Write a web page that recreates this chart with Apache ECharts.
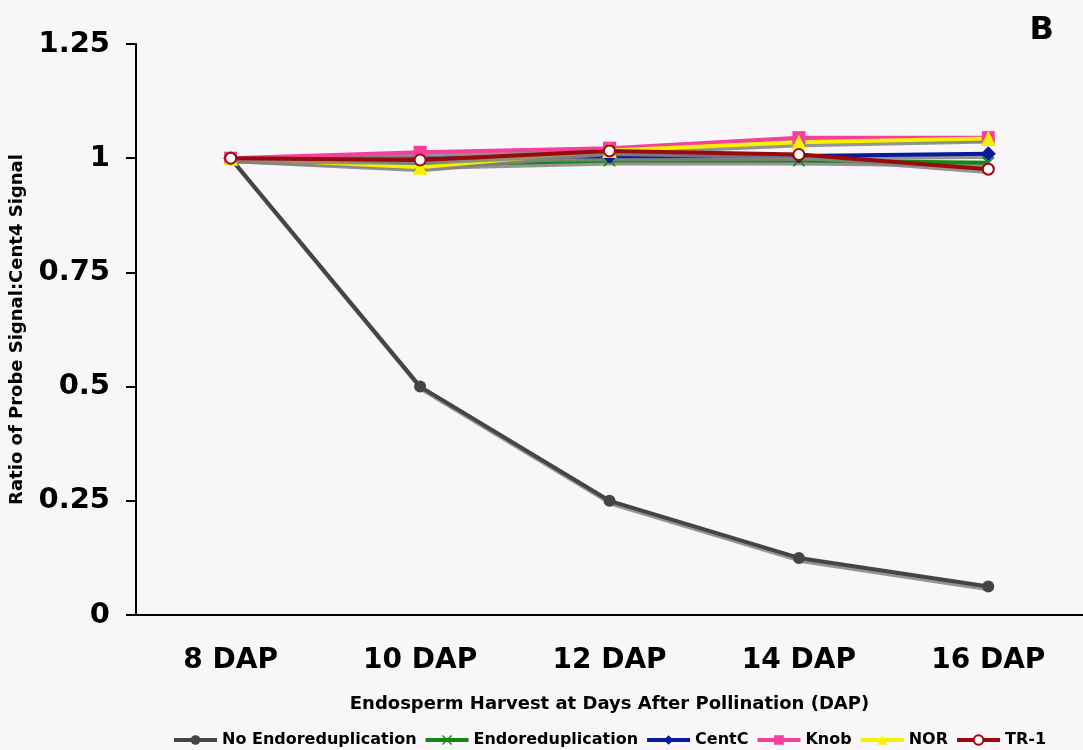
<!DOCTYPE html>
<html>
<head>
<meta charset="utf-8">
<script src="https://cdn.jsdelivr.net/npm/echarts@6/dist/echarts.min.js"></script>
<style>
html, body { margin: 0; padding: 0; background: #f9f6f9; }
#chart { width: 1083px; height: 750px; }
</style>
</head>
<body>
<div id="chart"></div>
<script>
const categories = ['8 DAP', '10 DAP', '12 DAP', '14 DAP', '16 DAP'];
const noEndo = [1, 0.5, 0.25, 0.125, 0.0625];
const endo = [1, 0.985, 0.995, 0.995, 0.99];
const centC = [1, 1.0, 1.004, 1.005, 1.01];
const knob = [1, 1.013, 1.022, 1.045, 1.045];
const nor = [1, 0.98, 1.017, 1.035, 1.043];
const tr1 = [1, 0.996, 1.016, 1.008, 0.976];

const xMark = 'path://M0,0 L1,0 L5,4 L9,0 L10,0 L10,1 L6,5 L10,9 L10,10 L9,10 L5,6 L1,10 L0,10 L0,9 L4,5 L0,1 Z';

function makeSeries(name, data, color, symbol, extra) {
    return Object.assign({
        name: name,
        type: 'line',
        data: data,
        symbol: symbol,
        symbolSize: 12,
        lineStyle: {
            color: color,
            width: 4,
            shadowColor: 'rgba(130,130,130,0.85)',
            shadowOffsetX: 2,
            shadowOffsetY: 3,
            shadowBlur: 0
        },
        itemStyle: { color: color },
        emphasis: { disabled: true }
    }, extra || {});
}

let chartBox = document.getElementById('chart');
let myChart = echarts.init(chartBox);
let option = {
    backgroundColor: '#f9f6f9',
    animation: false,
    textStyle: { fontFamily: 'DejaVu Sans' },
    title: {
        text: 'B',
        right: 24,
        top: 10,
        textStyle: { fontSize: 32, fontWeight: 'bold', color: '#000' }
    },
    legend: {
        bottom: -3,
        left: 167,
        itemWidth: 43,
        itemHeight: 12,
        itemGap: 7,
        lineStyle: { width: 4, shadowColor: 'transparent' },
        textStyle: { fontSize: 16, fontWeight: 'bold', color: '#000' },
        data: ['No Endoreduplication', 'Endoreduplication', 'CentC', 'Knob', 'NOR', 'TR-1']
    },
    grid: {
        left: 136,
        right: -3,
        top: 44,
        bottom: 135
    },
    xAxis: {
        type: 'category',
        data: categories,
        boundaryGap: true,
        name: 'Endosperm Harvest at Days After Pollination (DAP)',
        nameLocation: 'middle',
        nameGap: 80,
        nameTextStyle: { fontSize: 18, fontWeight: 'bold', color: '#000' },
        axisLine: { lineStyle: { color: '#000', width: 2 } },
        axisTick: { length: 10, lineStyle: { color: '#000', width: 2 } },
        axisLabel: { fontSize: 28, fontWeight: 'bold', color: '#000', margin: 32 }
    },
    yAxis: {
        type: 'value',
        min: 0,
        max: 1.25,
        interval: 0.25,
        name: 'Ratio of Probe Signal:Cent4 Signal',
        nameLocation: 'middle',
        nameGap: 110,
        nameTextStyle: { fontSize: 18, fontWeight: 'bold', color: '#000' },
        axisLine: { show: true, lineStyle: { color: '#000', width: 2 } },
        axisTick: { show: true, length: 10, lineStyle: { color: '#000', width: 2 } },
        splitLine: { show: false },
        axisLabel: { fontSize: 29, fontWeight: 'bold', color: '#000', margin: 26 }
    },
    series: [
        makeSeries('No Endoreduplication', noEndo, '#454545', 'circle'),
        makeSeries('Endoreduplication', endo, '#128a12', xMark, { symbolSize: 12 }),
        makeSeries('CentC', centC, '#0a1a9a', 'diamond', { symbolSize: 15 }),
        makeSeries('Knob', knob, '#f5409a', 'rect', { symbolSize: 13 }),
        makeSeries('NOR', nor, '#f7f000', 'triangle', { symbolSize: 15 }),
        makeSeries('TR-1', tr1, '#9a0a0a', 'emptyCircle', { symbolSize: 11, itemStyle: { color: '#9a0a0a', borderWidth: 1.5 } })
    ]
};
myChart.setOption(option);
</script>
</body>
</html>
